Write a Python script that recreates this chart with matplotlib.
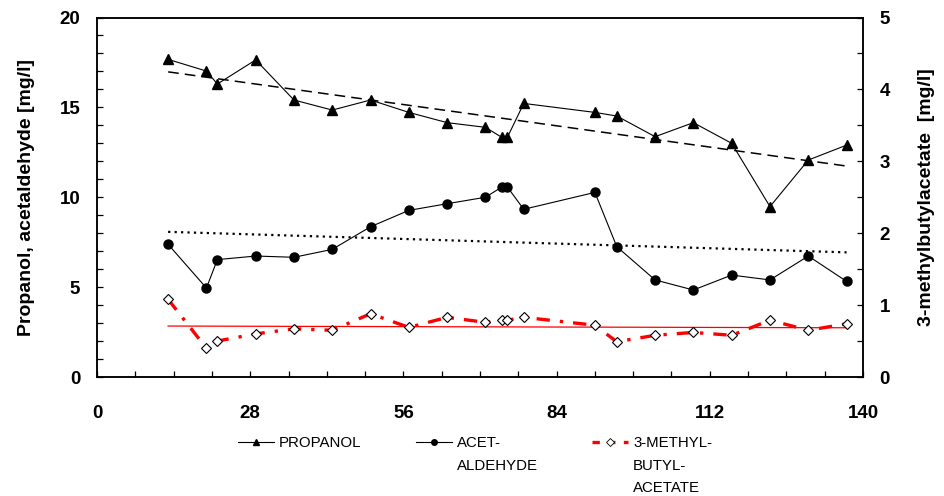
import numpy as np
import matplotlib
matplotlib.use("Agg")
import matplotlib.pyplot as plt
from matplotlib.ticker import MultipleLocator
from matplotlib.lines import Line2D
from matplotlib.legend_handler import HandlerLine2D

# ---- data ----
days = [13, 20, 22, 29, 36, 43, 50, 57, 64, 71, 74, 75, 78, 91, 95, 102, 109, 116, 123, 130, 137]
propanol = [17.67, 17.02, 16.30, 17.64, 15.41, 14.85, 15.41, 14.72, 14.15, 13.89, 13.33, 13.33,
            15.22, 14.72, 14.52, 13.37, 14.15, 13.00, 9.48, 12.07, 12.90]
acetaldehyde = [7.38, 4.95, 6.53, 6.73, 6.66, 7.10, 8.36, 9.27, 9.64, 10.00, 10.57, 10.57,
                9.33, 10.27, 7.25, 5.40, 4.84, 5.67, 5.40, 6.73, 5.32]
methylbutylacetate = [1.08, 0.40, 0.50, 0.60, 0.67, 0.65, 0.88, 0.69, 0.83, 0.76, 0.79, 0.79,
                      0.83, 0.72, 0.49, 0.58, 0.62, 0.58, 0.79, 0.65, 0.74]

x_ticks = [0, 28, 56, 84, 112, 140]
left_ticks = [0, 5, 10, 15, 20]
right_ticks = [0, 1, 2, 3, 4, 5]
legend_labels = ["PROPANOL", "ACET-\nALDEHYDE", "3-METHYL-\nBUTYL-\nACETATE"]

plt.rcParams['font.family'] = ['Liberation Sans', 'DejaVu Sans']

W, H = 945, 496
fig = plt.figure(figsize=(W / 100, H / 100), dpi=100)
L, R, T, B = 97, 863, 17.5, 377
ax = fig.add_axes([L / W, 1 - B / H, (R - L) / W, (B - T) / H])
ax2 = ax.twinx()

x = np.array(days, dtype=float)

# trend lines (least squares fits of the data)
def trend(y):
    c = np.polyfit(x, np.array(y, dtype=float), 1)
    xs = np.array([x.min(), x.max()])
    return xs, np.polyval(c, xs)

tx, ty = trend(propanol)
ax.plot(tx, ty, color='black', lw=1.1, dashes=(7, 4), zorder=2)
tx, ty = trend(acetaldehyde)
ax.plot(tx, ty, color='black', lw=1.6, dashes=(1, 1.9), zorder=2)

ax.plot(x, propanol, color='black', lw=0.8, marker='^', ms=6.5, mfc='black', mec='black', zorder=3)
ax.plot(x, acetaldehyde, color='black', lw=0.8, marker='o', ms=6.5, mfc='black', mec='black', zorder=3)

tx, ty = trend(methylbutylacetate)
ax2.plot(tx, ty, color='red', lw=0.9, zorder=2)
ax2.plot(x, methylbutylacetate, color='red', lw=2.4, dashes=(4, 3, 1, 3), zorder=3)
ax2.plot(x, methylbutylacetate, ls='none', marker='D', ms=5.5, mfc='white', mec='black', mew=0.8, zorder=4)

ax.set_xlim(0, 140)
ax.set_ylim(0, 20)
ax2.set_ylim(0, 5)

ax.set_xticks(x_ticks)
ax.xaxis.set_minor_locator(MultipleLocator(7))
ax.set_yticks(left_ticks)
ax.yaxis.set_minor_locator(MultipleLocator(1))
ax2.set_yticks(right_ticks)
ax2.yaxis.set_minor_locator(MultipleLocator(0.5))

for a in (ax, ax2):
    a.tick_params(which='both', direction='in', length=4, width=0.9, labelsize=13.5)
    for s in a.spines.values():
        s.set_linewidth(1.1)
ax.tick_params(axis='x', which='major', pad=20)
ax.tick_params(axis='y', which='major', pad=12)
ax2.tick_params(axis='y', which='major', pad=12)
for lab in ax.get_xticklabels() + ax.get_yticklabels() + ax2.get_yticklabels():
    lab.set_fontweight('bold')

ax.set_ylabel("Propanol, acetaldehyde [mg/l]", fontsize=14, fontweight='bold')
ax.yaxis.set_label_coords(-0.081, 0.5)
ax2.set_ylabel("3-methylbutylacetate  [mg/l]", fontsize=14, fontweight='bold', rotation=90)
ax2.yaxis.set_label_coords(1.072, 0.5)


class RaisedHandler(HandlerLine2D):
    def __init__(self, raise_pts, **kw):
        super().__init__(**kw)
        self.raise_pts = raise_pts

    def create_artists(self, *args, **kw):
        arts = super().create_artists(*args, **kw)
        for a in arts:
            a.set_ydata(np.asarray(a.get_ydata(), dtype=float) + self.raise_pts)
        return arts


handles = [
    Line2D([], [], color='black', lw=0.8, marker='^', ms=4),
    Line2D([], [], color='black', lw=0.8, marker='o', ms=4),
    Line2D([], [], color='red', lw=2.4, dashes=(2.2, 2.5), marker='D', ms=4, mfc='white', mec='black', mew=0.6),
]
starts = [238, 416, 592]
line_step_pts = 17.5
for h, lab, sx in zip(handles, legend_labels, starts):
    nlines = lab.count("\n") + 1
    leg = fig.legend([h], [lab], loc='upper left', bbox_to_anchor=(sx / W, 1 - 436 / H),
                     frameon=False, handlelength=2.4, handletextpad=0.35, borderaxespad=0,
                     borderpad=0, prop={'size': 10.8},
                     handler_map={h: RaisedHandler((nlines - 1) / 2 * line_step_pts)})
    for t in leg.get_texts():
        t.set_linespacing(1.78)

fig.savefig("out.png", dpi=100)
